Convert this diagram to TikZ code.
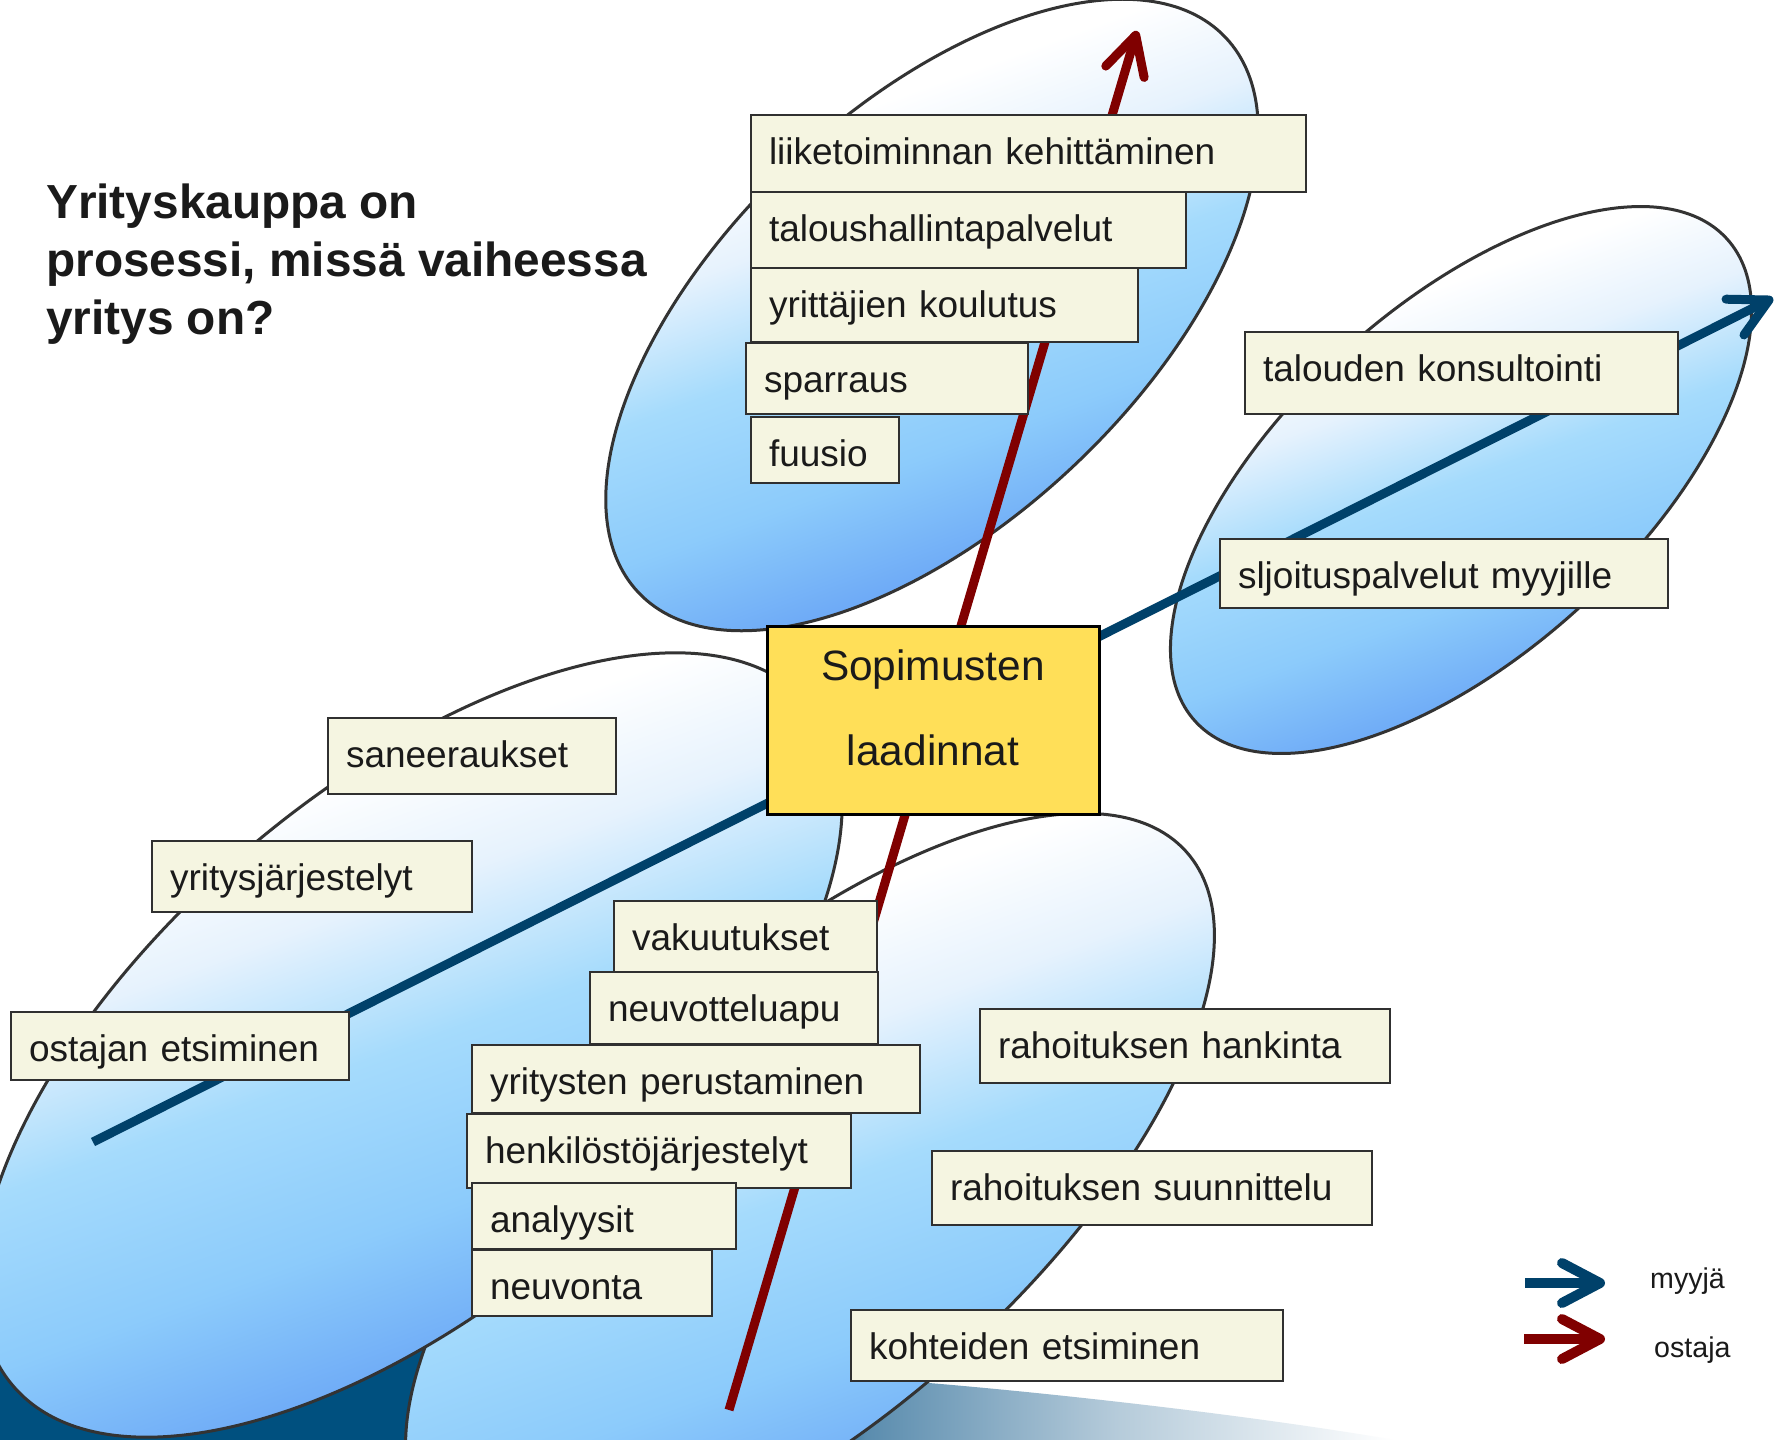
\documentclass[tikz,border=0pt]{standalone}
\usepackage{fontspec}
\setmainfont{Liberation Sans}
\usetikzlibrary{arrows.meta}
\definecolor{cream}{HTML}{F5F5E1}
\definecolor{boxline}{HTML}{303030}
\definecolor{txt}{HTML}{1A1A1A}
\definecolor{yel}{HTML}{FFDF58}
\definecolor{ostred}{HTML}{800000}
\definecolor{myyblue}{HTML}{00416A}
\definecolor{outl}{HTML}{333333}
\definecolor{dkband}{HTML}{00507F}
\definecolor{steel}{HTML}{5A8CAE}
\definecolor{steeltwo}{HTML}{B5CBDA}
\definecolor{ebthree}{HTML}{6AA6F6}
\definecolor{ebtwo}{HTML}{8CCBFB}
\definecolor{ebone}{HTML}{A5DBFC}
\definecolor{ewone}{HTML}{E6F2FD}
\pgfdeclareverticalshading{ellshade}{100bp}{color(0bp)=(ebthree); color(32bp)=(ebthree); color(41bp)=(ebtwo); color(50bp)=(ebone); color(58bp)=(ewone); color(65bp)=(white); color(100bp)=(white)}
\pgfdeclarehorizontalshading{bandshade}{100bp}{color(0bp)=(dkband); color(54bp)=(dkband); color(56bp)=(steel); color(65bp)=(steeltwo); color(75bp)=(white); color(100bp)=(white)}
\begin{document}
\begin{tikzpicture}[x=1pt,y=-1pt,
  ell/.style={shading=ellshade, shading angle=20, draw=outl, line width=3pt},
  myyja/.style={draw=myyblue, line width=9pt, -{Straight Barb[length=38pt, width=40pt, round]}},
  ostaja/.style={draw=ostred, line width=9pt, -{Straight Barb[length=38pt, width=40pt, round]}},
  legmyy/.style={draw=myyblue, line width=10pt, -{Straight Barb[length=38pt, width=40pt, round]}},
  legost/.style={draw=ostred, line width=10pt, -{Straight Barb[length=38pt, width=40pt, round]}},
  lbl/.style={draw=boxline, fill=cream, line width=1.5pt, anchor=north west, inner xsep=18pt, inner ysep=0pt, outer sep=0pt, text height=49pt, align=left, text=txt, font=\fontsize{37}{44}\selectfont},
  yelbox/.style={draw=black, fill=yel, line width=3pt, minimum width=332pt, minimum height=188pt, inner sep=0pt, outer sep=0pt},
  yeltxt/.style={anchor=base, inner sep=0pt, text=txt, font=\fontsize{42.4}{50}\selectfont},
  ttl/.style={anchor=base west, inner sep=0pt, text=txt, font=\bfseries\fontsize{47.8}{58}\selectfont},
  legtxt/.style={anchor=base west, inner sep=0pt, text=txt, font=\fontsize{28.6}{34}\selectfont}]
\useasboundingbox (0,0) rectangle (1778,1440);
\fill[white] (0,0) rectangle (1778,1440);
\begin{scope}
\clip (0,0) rectangle (1778,1440);
% background band
\shade[shading=bandshade] (0,1310) -- (700,1340) -- (929,1383) .. controls (1050,1393) and (1250,1415) .. (1395,1440) -- (0,1440) -- cycle;
% ellipses
\shadedraw[ell, rotate around={42:(810,1190)}] (810,1190) ellipse [x radius=506, y radius=222];
\shadedraw[ell, rotate around={40.6:(411,1045)}] (411,1045) ellipse [x radius=524, y radius=255];
\shadedraw[ell, rotate around={43.4:(932,315)}] (932,315) ellipse [x radius=404, y radius=207];
\shadedraw[ell, rotate around={42.2:(1461,480)}] (1461,480) ellipse [x radius=359, y radius=174];
% process arrows
\coordinate (rs) at (729,1410);
\coordinate (rt) at (1137,31);
\coordinate (bs) at (93,1142);
\coordinate (bt) at (1773,298);
\draw[ostaja] (rs) -- (rt);
\draw[myyja] (bs) -- (bt);
% boxes
\node[lbl, text width=519pt, text depth=28pt] (b1) at (751,115) {liiketoiminnan kehittäminen};
\node[lbl, text width=399pt, text depth=27pt] (b2) at (751,192) {taloushallintapalvelut};
\node[lbl, text width=351pt, text depth=25pt] (b3) at (751,268) {yrittäjien koulutus};
\node[lbl, text width=246pt, text depth=22pt] (b4) at (746,343) {sparraus};
\node[lbl, text width=112pt, text depth=17pt] (b5) at (751,417) {fuusio};
\node[lbl, text width=397pt, text depth=33pt] (b6) at (1245,332) {talouden konsultointi};
\node[lbl, text width=412pt, text depth=20pt] (b7) at (1220,539) {sljoituspalvelut myyjille};
\node[yelbox] (sop) at (933,720) {};
\node[yeltxt] (sopa) at (933,680) {Sopimusten};
\node[yeltxt] (sopb) at (933,765) {laadinnat};
\node[lbl, text width=252pt, text depth=27pt] (b9) at (328,718) {saneeraukset};
\node[lbl, text width=284pt, text depth=22pt] (b10) at (152,841) {yritysjärjestelyt};
\node[lbl, text width=302pt, text depth=19pt] (b11) at (11,1012) {ostajan etsiminen};
\node[lbl, text width=227pt, text depth=22pt] (b12) at (614,901) {vakuutukset};
\node[lbl, text width=252pt, text depth=23pt] (b13) at (590,972) {neuvotteluapu};
\node[lbl, text width=412pt, text depth=19pt] (b14) at (472,1045) {yritysten perustaminen};
\node[lbl, text width=348pt, text depth=25pt] (b15) at (467,1114) {henkilöstöjärjestelyt};
\node[lbl, text width=228pt, text depth=17pt] (b16) at (472,1183) {analyysit};
\node[lbl, text width=204pt, text depth=17pt] (b17) at (472,1250) {neuvonta};
\node[lbl, text width=374pt, text depth=25pt] (b18) at (980,1009) {rahoituksen hankinta};
\node[lbl, text width=404pt, text depth=25pt] (b19) at (932,1151) {rahoituksen suunnittelu};
\node[lbl, text width=396pt, text depth=22pt] (b20) at (851,1310) {kohteiden etsiminen};
% title
\node[ttl] (t1) at (46,218) {Yrityskauppa on};
\node[ttl] (t2) at (46,276) {prosessi, missä vaiheessa};
\node[ttl] (t3) at (46,334) {yritys on?};
% legend
\coordinate (lma) at (1525,1283);
\coordinate (lmb) at (1605,1283);
\coordinate (loa) at (1524,1339);
\coordinate (lob) at (1605,1339);
\draw[legmyy] (lma) -- (lmb);
\draw[legost] (loa) -- (lob);
\node[legtxt] (lm) at (1650,1288) {myyjä};
\node[legtxt] (lo) at (1654,1357) {ostaja};
\end{scope}
\end{tikzpicture}
\end{document}
